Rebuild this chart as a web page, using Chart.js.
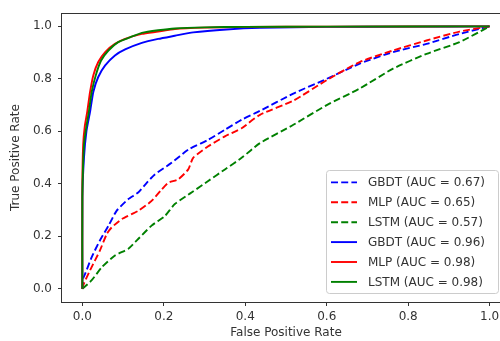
<!DOCTYPE html>
<html>
<head>
<meta charset="utf-8">
<script src="https://cdn.jsdelivr.net/npm/chart.js@4/dist/chart.umd.min.js"></script>
<style>
  html, body { margin: 0; padding: 0; background: #fff; overflow: hidden; }
  canvas { display: block; }
</style>
</head>
<body>
<canvas id="roc" width="520" height="341"></canvas>
<script>
// ROC curves (x = FPR, y = TPR)
var gbdtDashX = [0, 0.002, 0.007, 0.023, 0.043, 0.064, 0.084, 0.113, 0.137, 0.158, 0.178, 0.219, 0.26, 0.309, 0.35, 0.391, 0.436, 0.518, 0.6, 0.681, 0.763, 0.845, 0.926, 1];
var gbdtDashY = [0, 0.04, 0.058, 0.121, 0.184, 0.24, 0.297, 0.342, 0.367, 0.404, 0.436, 0.48, 0.53, 0.568, 0.606, 0.644, 0.678, 0.744, 0.8, 0.858, 0.902, 0.933, 0.971, 1];

var mlpDashX = [0, 0.002, 0.019, 0.043, 0.06, 0.072, 0.097, 0.137, 0.17, 0.195, 0.211, 0.235, 0.26, 0.272, 0.309, 0.35, 0.391, 0.436, 0.518, 0.6, 0.681, 0.763, 0.845, 0.926, 1];
var mlpDashY = [0, 0.014, 0.071, 0.146, 0.209, 0.234, 0.266, 0.297, 0.335, 0.379, 0.404, 0.417, 0.455, 0.499, 0.543, 0.581, 0.612, 0.663, 0.717, 0.795, 0.864, 0.908, 0.946, 0.98, 1];

var lstmDashX = [0, 0.023, 0.048, 0.08, 0.113, 0.137, 0.17, 0.203, 0.227, 0.268, 0.309, 0.35, 0.391, 0.436, 0.518, 0.6, 0.681, 0.763, 0.845, 0.926, 1];
var lstmDashY = [0, 0.033, 0.083, 0.127, 0.153, 0.19, 0.241, 0.278, 0.323, 0.367, 0.411, 0.455, 0.499, 0.555, 0.625, 0.7, 0.763, 0.839, 0.895, 0.94, 1];

var gbdtX = [0, 0, 0.004, 0.01, 0.019, 0.027, 0.039, 0.056, 0.08, 0.105, 0.146, 0.186, 0.227, 0.272, 0.354, 0.436, 0.6, 0.8, 1];
var gbdtY = [0, 0.35, 0.5, 0.6, 0.675, 0.751, 0.807, 0.851, 0.889, 0.912, 0.937, 0.952, 0.964, 0.977, 0.988, 0.994, 0.998, 0.999, 1];

var mlpX = [0, 0, 0.002, 0.006, 0.012, 0.019, 0.027, 0.039, 0.056, 0.08, 0.105, 0.146, 0.186, 0.227, 0.3, 0.4, 0.6, 1];
var mlpY = [0, 0.4, 0.55, 0.62, 0.675, 0.751, 0.814, 0.864, 0.902, 0.933, 0.952, 0.971, 0.98, 0.99, 0.995, 0.998, 0.999, 1];

var lstmX = [0, 0, 0.004, 0.01, 0.016, 0.023, 0.033, 0.046, 0.064, 0.088, 0.117, 0.146, 0.186, 0.227, 0.3, 0.4, 0.6, 1];
var lstmY = [0, 0.35, 0.55, 0.62, 0.675, 0.751, 0.814, 0.87, 0.908, 0.94, 0.958, 0.975, 0.985, 0.992, 0.996, 0.998, 0.999, 1];

var seriesLabels = ['GBDT (AUC = 0.67)', 'MLP (AUC = 0.65)', 'LSTM (AUC = 0.57)',
    'GBDT (AUC = 0.96)', 'MLP (AUC = 0.98)', 'LSTM (AUC = 0.98)'];
var xTicks = [0, 0.2, 0.4, 0.6, 0.8, 1.0];
var yTicks = [0, 0.2, 0.4, 0.6, 0.8, 1.0];

var FONT = 'DejaVu Sans';
var TEXT = '#333333';

function pts(xs, ys) {
    return xs.map(function (x, i) { return {x: x, y: ys[i]}; });
}

function makeSet(i, xs, ys, color, dashed) {
    return {
        label: seriesLabels[i],
        data: pts(xs, ys),
        borderColor: color,
        backgroundColor: color,
        borderWidth: 1.9,
        borderDash: dashed ? [7, 3.2] : [],
        pointRadius: 0,
        tension: 0.2,
        fill: false,
        order: 6 - i // later series go on top, like matplotlib
    };
}

// axes frame (all four spines)
var framePlugin = {
    id: 'frame',
    afterDatasetsDraw: function (chart) {
        var a = chart.chartArea, ctx = chart.ctx;
        ctx.save();
        ctx.strokeStyle = TEXT;
        ctx.lineWidth = 1;
        ctx.strokeRect(Math.round(a.left) - 0.5, Math.round(a.top) + 0.5,
            Math.round(a.right - a.left), Math.round(a.bottom - a.top));
        ctx.restore();
    }
};

// matplotlib style legend in the lower right corner
var legendPlugin = {
    id: 'mplLegend',
    afterDraw: function (chart) {
        var ctx = chart.ctx;
        var boxL = 326, boxT = 170, boxW = 172, boxH = 123;
        var rowH = 19.9, firstRow = 182.4;
        ctx.save();
        ctx.beginPath();
        ctx.roundRect(boxL + 0.5, boxT + 0.5, boxW, boxH, 3);
        ctx.fillStyle = 'rgba(255,255,255,0.8)';
        ctx.fill();
        ctx.strokeStyle = '#cccccc';
        ctx.lineWidth = 1;
        ctx.stroke();

        ctx.font = '12px "' + FONT + '"';
        ctx.textBaseline = 'middle';
        chart.data.datasets.forEach(function (ds, i) {
            var y = firstRow + i * rowH;
            ctx.beginPath();
            ctx.setLineDash(ds.borderDash);
            ctx.strokeStyle = ds.borderColor;
            ctx.lineWidth = ds.borderWidth;
            ctx.moveTo(331, y);
            ctx.lineTo(357, y);
            ctx.stroke();
            ctx.setLineDash([]);
            ctx.fillStyle = TEXT;
            ctx.fillText(ds.label, 368, y + 0.5);
        });
        ctx.restore();
    }
};

var ctx = document.getElementById('roc');
var config = {
    type: 'line',
    data: {
        datasets: [
            makeSet(0, gbdtDashX, gbdtDashY, '#0000ff', true),
            makeSet(1, mlpDashX, mlpDashY, '#ff0000', true),
            makeSet(2, lstmDashX, lstmDashY, '#008000', true),
            makeSet(3, gbdtX, gbdtY, '#0000ff', false),
            makeSet(4, mlpX, mlpY, '#ff0000', false),
            makeSet(5, lstmX, lstmY, '#008000', false)
        ]
    },
    options: {
        responsive: false,
        animation: false,
        layout: {
            padding: {left: 0, right: 10, top: 11, bottom: 0}
        },
        plugins: {
            legend: {display: false},
            tooltip: {enabled: false}
        },
        scales: {
            x: {
                type: 'linear',
                min: -0.05,
                max: 1.05,
                afterFit: function (scale) { scale.height = 39; },
                afterBuildTicks: function (scale) {
                    scale.ticks = xTicks.map(function (v) { return {value: v}; });
                },
                grid: {
                    drawOnChartArea: false,
                    drawTicks: true,
                    tickLength: 4,
                    tickColor: TEXT
                },
                border: {display: false},
                ticks: {
                    color: TEXT,
                    font: {family: FONT, size: 12},
                    padding: 4,
                    maxRotation: 0,
                    callback: function (v) { return v.toFixed(1); }
                },
                title: {
                    display: true,
                    text: 'False Positive Rate',
                    color: TEXT,
                    font: {family: FONT, size: 12},
                    padding: {top: 0, bottom: 1}
                }
            },
            y: {
                type: 'linear',
                min: -0.05,
                max: 1.05,
                afterFit: function (scale) { scale.width = 62; },
                afterBuildTicks: function (scale) {
                    scale.ticks = yTicks.map(function (v) { return {value: v}; });
                },
                grid: {
                    drawOnChartArea: false,
                    drawTicks: true,
                    tickLength: 4,
                    tickColor: TEXT
                },
                border: {display: false},
                ticks: {
                    color: TEXT,
                    font: {family: FONT, size: 12},
                    padding: 6,
                    callback: function (v) { return v.toFixed(1); }
                },
                title: {
                    display: true,
                    text: 'True Positive Rate',
                    color: TEXT,
                    font: {family: FONT, size: 12},
                    padding: {top: 9, bottom: 0}
                }
            }
        }
    },
    plugins: [framePlugin, legendPlugin]
};
new Chart(ctx, config);
</script>
</body>
</html>
